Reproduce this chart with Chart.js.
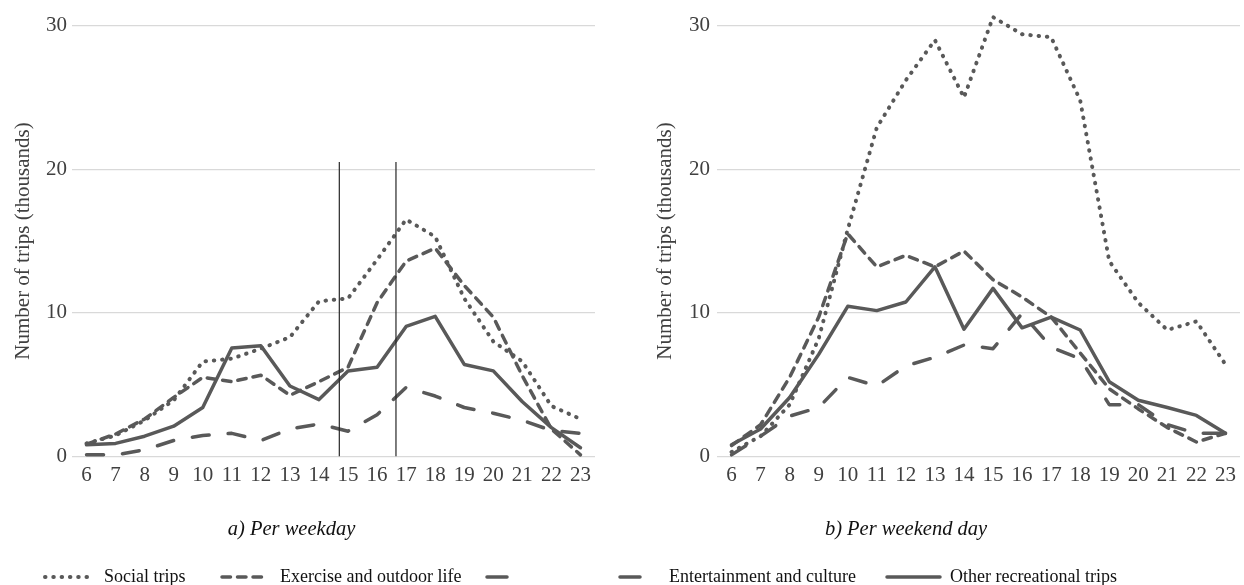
<!DOCTYPE html>
<html><head><meta charset="utf-8">
<script src="https://cdn.jsdelivr.net/npm/chart.js@4"></script>
<style>
html,body{margin:0;padding:0;background:#fff;overflow:hidden;width:1244px;height:585px;}
.box{position:absolute;}
#wa{left:-12px;top:0;width:607px;height:560px;}
#wb{left:572px;top:0;width:668px;height:560px;}
#lg{left:0;top:555px;width:1244px;height:30px;}
</style></head><body>
<div class="box" id="wa"><canvas id="ca"></canvas></div>
<div class="box" id="wb"><canvas id="cb"></canvas></div>
<div class="box" id="lg"><canvas id="cl"></canvas></div>
<script>
// ---- data ----
const hours = ['6','7','8','9','10','11','12','13','14','15','16','17','18','19','20','21','22','23'];
const seriesNames = ['Social trips','Exercise and outdoor life','Entertainment and culture','Other recreational trips'];

const weekdaySocial        = [0.9, 1.45, 2.5, 3.9, 6.6, 6.8, 7.5, 8.3, 10.8, 11.0, 13.7, 16.5, 15.3, 11.0, 8.0, 6.6, 3.5, 2.6];
const weekdayExercise      = [0.85, 1.55, 2.6, 4.1, 5.5, 5.2, 5.65, 4.25, 5.2, 6.2, 10.7, 13.6, 14.5, 11.9, 9.7, 5.6, 1.9, 0.1];
const weekdayEntertainment = [0.1, 0.1, 0.45, 1.1, 1.45, 1.6, 1.1, 1.9, 2.25, 1.75, 2.9, 4.8, 4.2, 3.4, 3.0, 2.5, 1.8, 1.6];
const weekdayOther         = [0.8, 0.9, 1.4, 2.1, 3.4, 7.55, 7.7, 4.9, 3.95, 5.95, 6.2, 9.05, 9.75, 6.4, 5.95, 3.8, 2.0, 0.6];

const weekendSocial        = [0.3, 1.4, 3.6, 8.2, 15.8, 22.9, 26.2, 29.0, 25.0, 30.6, 29.4, 29.2, 24.8, 13.6, 10.7, 8.8, 9.4, 6.4];
const weekendExercise      = [0.75, 2.2, 5.5, 9.7, 15.5, 13.2, 14.0, 13.2, 14.3, 12.3, 11.1, 9.7, 7.2, 4.7, 3.3, 2.0, 1.0, 1.6];
const weekendEntertainment = [0.1, 1.4, 2.8, 3.4, 5.5, 4.9, 6.3, 6.9, 7.75, 7.5, 9.95, 7.6, 6.8, 3.6, 3.6, 2.2, 1.6, 1.6];
const weekendOther         = [0.8, 1.9, 4.1, 7.1, 10.45, 10.15, 10.75, 13.2, 8.85, 11.7, 8.95, 9.7, 8.8, 5.2, 3.9, 3.4, 2.85, 1.6];

const yTicks = [0, 10, 20, 30];
const weekdayMarkerHours = [14.7, 16.65];
const markerTopValue = 20.5;

const axisTitle = 'Number of trips (thousands)';
const captionA = 'a) Per weekday';
const captionB = 'b) Per weekend day';

// ---- styles ----
const LINE = '#595959';
const FONT = "'Liberation Serif','Times New Roman',serif";
const seriesStyle = [
  {borderDash:[0.5,7.8], borderCapStyle:'round', borderWidth:4},
  {borderDash:[8.5,7], borderCapStyle:'round', borderWidth:3.5},
  {borderDash:[17,19], borderCapStyle:'round', borderWidth:3.5},
  {borderDash:[], borderCapStyle:'round', borderWidth:3.5}
];
const legendLayout = [
  {from:45, to:88, textX:104},
  {from:222, to:263, textX:280},
  {from:487, to:641, textX:669, dash:[20,113]},
  {from:887, to:940, textX:950}
];

function makeDatasets(series){
  return series.map((d,i)=>Object.assign({
    label: seriesNames[i], data: d, borderColor: LINE, backgroundColor: LINE,
    pointRadius:0, pointHoverRadius:0, tension:0, fill:false, clip:false, borderJoinStyle:'round'
  }, seriesStyle[i]));
}

function panelOptions(caption, yWidth, tickPad, titleOffset){
  return {
    responsive:true, maintainAspectRatio:false, animation:false, devicePixelRatio:1,
    layout:{padding:{top:25.7,left:0,right:0,bottom:0}},
    plugins:{
      legend:{display:false}, tooltip:{enabled:false},
      title:{display:true, text:caption, position:'bottom', color:'#111',
        font:{family:FONT,size:20.5,style:'italic',weight:'normal',lineHeight:1.2},
        padding:{top:0,bottom:18}}
    },
    scales:{
      x:{type:'category', offset:true,
        grid:{display:false}, border:{display:false},
        ticks:{font:{family:FONT,size:21}, color:'#404040', padding:-1, maxRotation:0, autoSkip:false},
        afterFit:(s)=>{s.height = 61.1;}
      },
      y:{min:0, max:30,
        afterBuildTicks:(s)=>{s.ticks = yTicks.map(v=>({value:v}));},
        grid:{color:'#d9d9d9', lineWidth:1.3, drawTicks:false}, border:{display:false},
        ticks:{font:{family:FONT,size:21}, color:'#404040', padding:tickPad},
        title:{display:true, text:axisTitle, color:'#404040', font:{family:FONT,size:21}, padding:{top:titleOffset,bottom:0}},
        afterFit:(s)=>{s.width = yWidth;}
      }
    }
  };
}

const markerPlugin = {
  id:'markers',
  afterDatasetsDraw(chart){
    const xs = chart.scales.x, ys = chart.scales.y, ctx = chart.ctx;
    ctx.save();
    ctx.strokeStyle = '#262626'; ctx.lineWidth = 1.2;
    weekdayMarkerHours.forEach(h=>{
      const px = xs.getPixelForValue(h - Number(hours[0]));
      ctx.beginPath();
      ctx.moveTo(px, ys.getPixelForValue(0));
      ctx.lineTo(px, ys.getPixelForValue(markerTopValue));
      ctx.stroke();
    });
    ctx.restore();
  }
};

new Chart(document.getElementById('ca'), {
  type:'line',
  data:{labels:hours, datasets:makeDatasets([weekdaySocial, weekdayExercise, weekdayEntertainment, weekdayOther])},
  options:panelOptions(captionA, 84, 5, 22.4),
  plugins:[markerPlugin]
});

new Chart(document.getElementById('cb'), {
  type:'line',
  data:{labels:hours, datasets:makeDatasets([weekendSocial, weekendExercise, weekendEntertainment, weekendOther])},
  options:panelOptions(captionB, 145, 7, 80.4)
});

const legendPlugin = {
  id:'customLegend',
  afterDraw(chart){
    const ctx = chart.ctx;
    const lineY = 22, textY = 27;
    chart.data.datasets.forEach((ds,i)=>{
      const L = legendLayout[i];
      ctx.save();
      ctx.strokeStyle = ds.borderColor;
      ctx.lineWidth = ds.borderWidth;
      ctx.lineCap = ds.borderCapStyle;
      ctx.setLineDash(L.dash || ds.borderDash);
      ctx.beginPath(); ctx.moveTo(L.from, lineY); ctx.lineTo(L.to, lineY); ctx.stroke();
      ctx.setLineDash([]);
      ctx.fillStyle = '#111';
      ctx.font = "18px 'Liberation Serif','Times New Roman',serif";
      ctx.textBaseline = 'alphabetic'; ctx.textAlign = 'left';
      ctx.fillText(ds.label, L.textX, textY);
      ctx.restore();
    });
  }
};

new Chart(document.getElementById('cl'), {
  type:'line',
  data:{labels:[], datasets:makeDatasets([[],[],[],[]])},
  options:{responsive:true, maintainAspectRatio:false, animation:false, devicePixelRatio:1,
    plugins:{legend:{display:false}, tooltip:{enabled:false}},
    scales:{x:{display:false}, y:{display:false}}},
  plugins:[legendPlugin]
});
</script>
</body></html>
